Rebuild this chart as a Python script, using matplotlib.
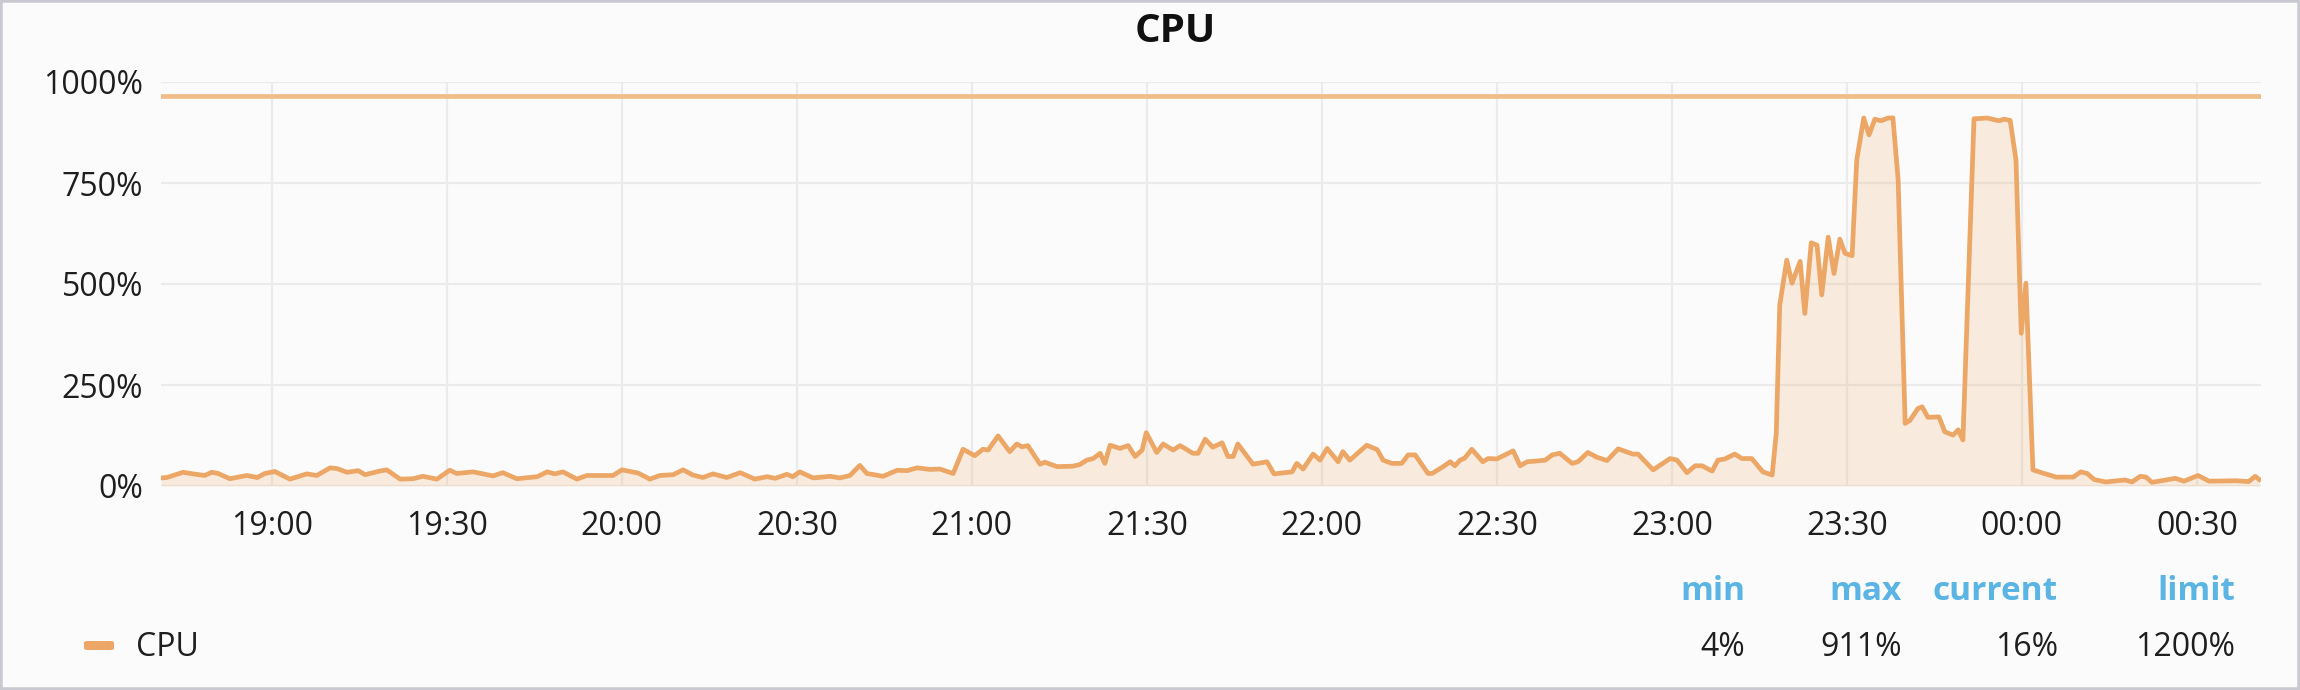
import matplotlib
matplotlib.use("Agg")
import matplotlib.pyplot as plt
import matplotlib.dates as mdates
from matplotlib.ticker import FuncFormatter, FixedLocator
from matplotlib.patches import FancyBboxPatch, Rectangle
from datetime import datetime, timedelta

# ---------------- data ----------------
title = "CPU"
series_name = "CPU"
start_time = (18, 41)
window_minutes = 360

minutes = [
    0.0, 1.0, 3.8, 5.5, 7.5, 8.7, 9.8, 11.8, 14.7, 16.5, 17.8, 19.5, 22.1, 25.0, 26.7,
    29.0, 30.2, 31.9, 33.8, 35.0, 37.5, 38.7, 41.0, 43.2, 44.9, 47.3, 49.5, 50.7, 53.5,
    56.9, 58.6, 61.0, 64.5, 66.2, 67.5, 68.9, 71.3, 73.0, 77.5, 79.0, 81.8, 83.8, 85.5,
    87.8, 89.5, 91.2, 92.9, 94.6, 97.0, 99.3, 101.8, 103.9, 105.3, 107.3, 108.3, 109.5,
    111.8, 114.7, 116.4, 118.1, 119.8, 121.0, 123.8, 126.2, 127.9, 129.6, 131.8, 133.5,
    135.8, 137.5, 139.5, 140.9, 141.8, 143.5, 145.5, 146.7, 147.6, 148.6, 150.7, 151.5,
    153.6, 156.3, 157.5, 158.7, 159.8, 161.0, 161.8, 162.7, 164.4, 165.8, 167.0, 168.2,
    168.9, 170.7, 171.8, 173.5, 174.7, 176.9, 177.8, 179.0, 180.3, 181.9, 182.9, 183.8,
    184.6, 187.2, 189.6, 190.8, 193.9, 194.7, 195.8, 197.5, 198.7, 199.9, 201.8, 202.6,
    203.8, 206.7, 208.5, 209.5, 211.0, 212.7, 213.8, 215.0, 217.2, 217.9, 219.8, 221.0,
    221.8, 222.7, 223.5, 224.7, 226.6, 227.5, 229.0, 231.8, 233.0, 234.2, 235.9, 237.3,
    238.5, 239.8, 241.9, 242.9, 244.6, 246.2, 247.9, 249.8, 252.3, 253.2, 255.8, 258.7,
    259.9, 261.6, 263.0, 264.2, 265.9, 266.9, 268.1, 269.8, 271.0, 272.7, 274.6, 276.2,
    276.9, 277.5, 278.7, 279.6, 281.0, 281.8, 282.9, 283.9, 284.7, 285.8, 286.8, 287.8,
    288.7, 289.9, 290.7, 291.9, 292.8, 293.8, 294.9, 296.1, 296.9, 297.8, 299.0, 299.8,
    301.2, 301.9, 302.9, 304.8, 305.8, 307.2, 308.1, 308.9, 310.8, 312.3, 313.0, 315.1,
    315.9, 317.0, 318.0, 318.9, 319.7, 320.9, 322.6, 324.9, 327.8, 329.1, 330.2, 331.4,
    333.4, 336.7, 337.9, 339.3, 340.3, 341.3, 345.3, 346.8, 349.2, 351.1, 355.7, 357.9,
    359.0, 359.7,
]

cpu_pct = [
    20, 21, 34, 30, 26, 34, 31, 18, 26, 21, 31, 36, 17, 30, 26,
    45, 43, 34, 38, 28, 37, 40, 17, 18, 24, 17, 39, 31, 35,
    25, 33, 18, 23, 35, 30, 35, 17, 26, 26, 40, 32, 17, 26,
    28, 40, 27, 21, 30, 21, 33, 17, 23, 19, 29, 23, 35,
    20, 24, 20, 26, 51, 31, 24, 39, 38, 45, 41, 42,
    31, 91, 75, 91, 89, 124, 85, 104, 97, 100, 54, 59,
    48, 49, 53, 64, 68, 81, 56, 101, 93, 100, 73, 89,
    132, 83, 104, 89, 100, 81, 81, 116, 96, 107, 73, 73,
    104, 54, 60, 30, 35, 56, 42, 79, 64, 93, 60, 85,
    64, 101, 90, 64, 56, 56, 77, 77, 31, 31, 48, 60,
    50, 64, 69, 91, 60, 68, 67, 87, 50, 60, 62, 64,
    77, 81, 56, 60, 83, 71, 63, 92, 79, 79, 40, 68,
    64, 33, 50, 50, 37, 64, 67, 79, 68, 68, 35, 27,
    130, 448, 559, 502, 556, 427, 602, 596, 473, 616, 526, 611,
    576, 570, 807, 911, 869, 908, 904, 911, 911, 757, 155, 162,
    192, 196, 170, 171, 134, 126, 139, 114, 909, 910, 911, 904,
    908, 905, 807, 378, 502, 40, 32, 22, 22, 35, 31, 16,
    10, 15, 10, 24, 22, 9, 19, 12, 26, 12, 13, 11,
    24, 16,
]

limit_line_pct = 965
y_ticks = [0, 250, 500, 750, 1000]
legend_columns = ["min", "max", "current", "limit"]
legend_values = ["4%", "911%", "16%", "1200%"]

# ---------------- style ----------------
FONT = ["Open Sans", "DejaVu Sans"]
plt.rcParams["font.family"] = FONT
BG = "#fbfbfb"
LINE = "#eca766"
LIMIT_COLOR = "#f0bd88"
GRID = "#ebebeb"
TEXT = "#1e1e1e"
HEAD = "#5ab4e4"
FS = 23

W, H = 2300, 690
fig = plt.figure(figsize=(W / 100, H / 100), dpi=100, facecolor=BG)

def fx(px):
    return px / W

def fy(py):
    return 1 - py / H

left, right, top, bottom = 161, 2261, 82, 486
ax = fig.add_axes([fx(left), fy(bottom), fx(right) - fx(left), fy(top) - fy(bottom)])
ax.set_facecolor(BG)

base = datetime(2000, 1, 1, *start_time)
times = [base + timedelta(minutes=m) for m in minutes]

ax.fill_between(times, cpu_pct, 0, color=LINE, alpha=0.2, linewidth=0, zorder=2)
ax.plot(times, cpu_pct, color=LINE, lw=3.4, solid_joinstyle="round", zorder=4)
ax.axhline(limit_line_pct, color=LIMIT_COLOR, lw=3.4, zorder=3)

ax.set_xlim(base, base + timedelta(minutes=window_minutes))
ax.set_ylim(0, 1000)
ax.yaxis.set_major_locator(FixedLocator(y_ticks))
ax.yaxis.set_major_formatter(FuncFormatter(lambda v, p: f"{int(v)}%"))
ax.xaxis.set_major_locator(mdates.MinuteLocator(byminute=[0, 30]))
ax.xaxis.set_major_formatter(mdates.DateFormatter("%H:%M"))

ax.grid(True, color=GRID, lw=1.6, zorder=0)
ax.set_axisbelow(True)
for s in ax.spines.values():
    s.set_visible(False)
ax.tick_params(axis="both", length=0, labelsize=FS, colors=TEXT)
ax.tick_params(axis="y", pad=13)
ax.tick_params(axis="x", pad=17)

# title
fig.text(fx(1175), fy(42), title, ha="center", va="baseline",
         fontsize=29, fontweight="bold", color="#111111")

# legend
col_right = [1745, 1902, 2058, 2235]
for name, val, xr in zip(legend_columns, legend_values, col_right):
    fig.text(fx(xr), fy(600), name, ha="right", va="baseline",
             fontsize=24, fontweight="bold", color=HEAD)
    fig.text(fx(xr), fy(656), val, ha="right", va="baseline",
             fontsize=FS, color=TEXT)
fig.patches.append(FancyBboxPatch((fx(84), fy(650)), fx(30), 9 / H,
                                  boxstyle="round,pad=0,rounding_size=0.002",
                                  transform=fig.transFigure, facecolor=LINE,
                                  edgecolor="none"))
fig.text(fx(136), fy(656), series_name, ha="left", va="baseline",
         fontsize=FS, color=TEXT)

# panel border
fig.patches.append(Rectangle((0, 0), 1, 1, transform=fig.transFigure,
                             fill=False, edgecolor="#c9c9d1", lw=4))

fig.savefig("out.png", dpi=100, facecolor=BG)
